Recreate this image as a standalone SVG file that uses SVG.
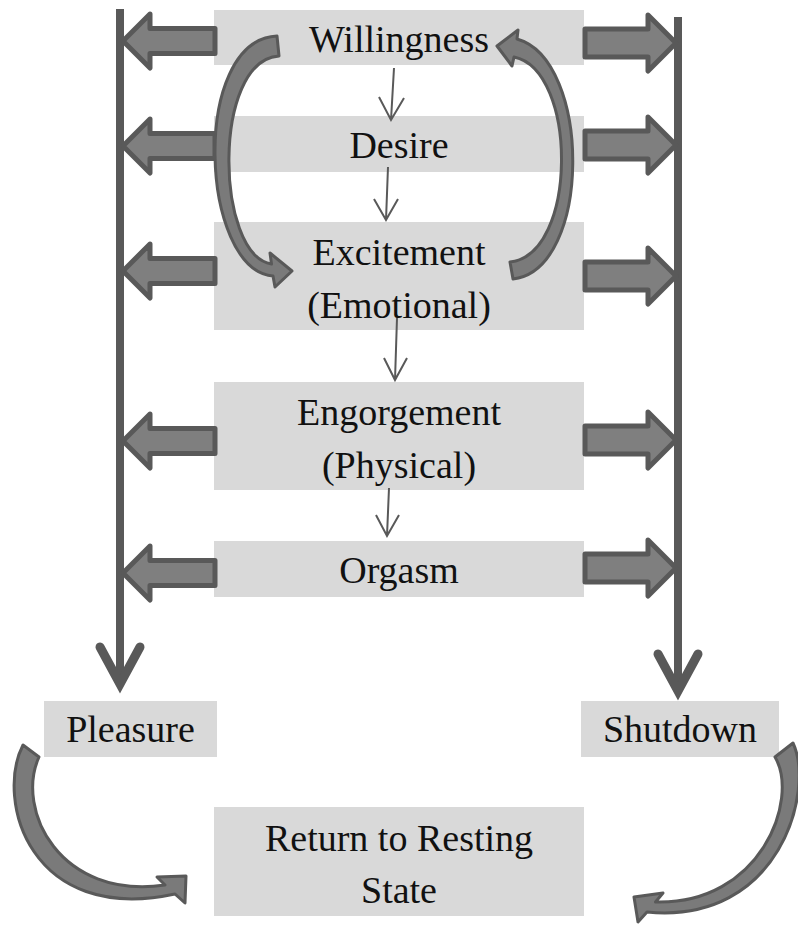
<svg xmlns="http://www.w3.org/2000/svg" width="798" height="925" viewBox="0 0 798 925">
<style>
.box{fill:#d9d9d9}
.lbl{font-family:"Liberation Serif","Times New Roman",serif;font-size:38px;fill:#111;text-anchor:middle}
.vline{stroke:#595959;stroke-width:8;fill:none}
.chev{stroke:#595959;stroke-width:9;fill:none;stroke-linecap:round;stroke-linejoin:miter}
.blk{fill:#7f7f7f;stroke:#595959;stroke-width:5;stroke-linejoin:round}
.curv{fill:#7a7a7a;stroke:#595959;stroke-width:3;stroke-linejoin:round}
.thin{stroke:#595959;stroke-width:2;fill:none}
</style>
<rect width="798" height="925" fill="#fff"/>
<g id="n-willingness"><rect class="box" x="214" y="10" width="370" height="55"/><text class="lbl" x="399" y="52">Willingness</text></g>
<g id="n-desire"><rect class="box" x="214" y="116" width="370" height="56"/><text class="lbl" x="399" y="158">Desire</text></g>
<g id="n-excitement"><rect class="box" x="214" y="222" width="370" height="108"/><text class="lbl" x="399" y="265">Excitement</text><text class="lbl" x="399" y="318">(Emotional)</text></g>
<g id="n-engorgement"><rect class="box" x="214" y="382" width="370" height="108"/><text class="lbl" x="399" y="425">Engorgement</text><text class="lbl" x="399" y="478">(Physical)</text></g>
<g id="n-orgasm"><rect class="box" x="214" y="541" width="370" height="56"/><text class="lbl" x="399" y="583">Orgasm</text></g>
<g id="n-pleasure"><rect class="box" x="44" y="701" width="173" height="56"/><text class="lbl" x="130.5" y="742">Pleasure</text></g>
<g id="n-shutdown"><rect class="box" x="581" y="701" width="198" height="56"/><text class="lbl" x="680" y="742">Shutdown</text></g>
<g id="n-return"><rect class="box" x="214" y="807" width="370" height="109"/><text class="lbl" x="399" y="851">Return to Resting</text><text class="lbl" x="399" y="903">State</text></g>
<g id="connectors">
  <line class="vline" x1="120" y1="9" x2="120" y2="682"/>
  <path class="chev" d="M100 647 L120 684 L140 647"/>
  <line class="vline" x1="678" y1="17" x2="678" y2="689"/>
  <path class="chev" d="M658 654 L678 691 L698 654"/>
  <path class="blk" d="M215 28.5 L150 28.5 L150 14 L123 41 L150 68 L150 53.5 L215 53.5 Z"/>
  <path class="blk" d="M215 133.5 L150 133.5 L150 119 L123 146 L150 173 L150 158.5 L215 158.5 Z"/>
  <path class="blk" d="M215 258.5 L150 258.5 L150 244 L123 271 L150 298 L150 283.5 L215 283.5 Z"/>
  <path class="blk" d="M215 428.5 L150 428.5 L150 414 L123 441 L150 468 L150 453.5 L215 453.5 Z"/>
  <path class="blk" d="M215 560.5 L150 560.5 L150 546 L123 573 L150 600 L150 585.5 L215 585.5 Z"/>
  <path class="blk" d="M585 29 L648 29 L648 15 L676 43 L648 71 L648 57 L585 57 Z"/>
  <path class="blk" d="M585 131 L648 131 L648 117 L676 145 L648 173 L648 159 L585 159 Z"/>
  <path class="blk" d="M585 262 L648 262 L648 248 L676 276 L648 304 L648 290 L585 290 Z"/>
  <path class="blk" d="M585 426 L648 426 L648 412 L676 440 L648 468 L648 454 L585 454 Z"/>
  <path class="blk" d="M585 554 L648 554 L648 540 L676 568 L648 596 L648 582 L585 582 Z"/>
  <path class="thin" d="M394 68 L391 120 M379 97 L391 120 L404 98"/>
  <path class="thin" d="M388 167 L386 220 M374 199 L386 220 L398 199"/>
  <path class="thin" d="M397 318 L395 380 M384 358 L395 380 L407 358"/>
  <path class="thin" d="M389 488 L387 536 M376 515 L387 536 L399 515"/>
  <path class="curv" d="M277 36 C190 40 200 270 273 276 L275 287 L292 271 L270 253 L271.5 264 C215 255 212 60 279 56 Z"/>
  <path class="curv" d="M497 46 L518 30 L517 39 C592 60 592 270 513 279 L510 262 C578 255 578 70 514 57 L512 66 Z"/>
  <path class="curv" d="M23 745 C-5 800 30 925 175 894 L185 903 L186 876 L157 877 L165 885 C60 900 15 810 39 757 Z"/>
  <path class="curv" d="M793 743 C815 790 780 925 647 912 L638 922 L634 897 L663 893 L655.5 902 C760 905 800 800 775 757 Z"/>
</g>
</svg>
